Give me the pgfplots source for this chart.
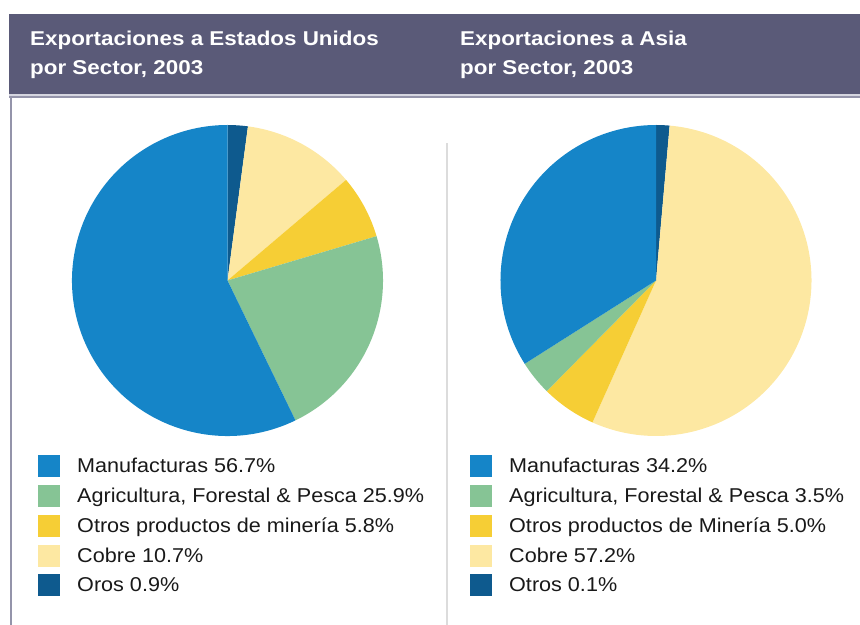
\documentclass[border=0pt]{standalone}
\usepackage{fontspec}
\setmainfont{Liberation Sans}
\newfontfamily\titlefont[FakeStretch=1.12]{Liberation Sans}
\newfontfamily\legfont[FakeStretch=1.08]{Liberation Sans}
\usepackage{pgfplots}
\usepackage{pgfplotstable}
\pgfplotsset{compat=1.18}

\definecolor{hdr}{HTML}{5A5A78}
\definecolor{hdrlight}{HTML}{D6D6E0}
\definecolor{hdrmid}{HTML}{9494AA}
\definecolor{divider}{HTML}{DCDCDC}
\definecolor{pie0}{HTML}{0E5A8E}
\definecolor{pie1}{HTML}{FDE8A2}
\definecolor{pie2}{HTML}{F6CE35}
\definecolor{pie3}{HTML}{86C495}
\definecolor{pie4}{HTML}{1585C8}

% slice sizes (percent) as drawn, clockwise from 12 o'clock
\pgfplotstableread{
sector value
Otros 2.1
Cobre 11.7
Mineria 6.6
Agricultura 22.4
Manufacturas 57.2
}\datausa

\pgfplotstableread{
sector value
Otros 1.4
Cobre 55.3
Mineria 5.7
Agricultura 3.6
Manufacturas 34.0
}\dataasia

\newcommand\drawpie[1]{%
  \xdef\cum{90}%
  \pgfplotstableforeachcolumnelement{value}\of#1\as\v{%
    \pgfmathsetmacro\endang{\cum-3.6*\v}%
    \edef\temp{\noexpand\fill[pie\pgfplotstablerow] (axis cs:0,0) -- ++(\cum:155.5bp) arc[start angle=\cum, end angle=\endang, radius=155.5bp] -- cycle;}%
    \temp
    \xdef\cum{\endang}%
  }%
}

\pgfplotsset{pieaxis/.style={
  hide axis, scale only axis,
  x=155.5bp, y=155.5bp,
  xmin=-1, xmax=1, ymin=-1, ymax=1,
  anchor=center, clip=false,
  legend image code/.code={\path[draw=none, fill=none] (0bp,-11bp) rectangle (39bp,11bp); \fill[##1, draw=none] (0bp,-11bp) rectangle (22bp,11bp);},
  legend cell align=left,
  legend style={draw=none, fill=none, inner sep=0pt, anchor=north west,
    row sep=7.8bp, text=black!90,
    font=\legfont\fontsize{20bp}{24bp}\selectfont,
    nodes={inner sep=0pt}},
}}

\begin{document}
\begin{tikzpicture}
\path[use as bounding box] (0bp,0bp) rectangle (860bp,625bp);
% header
\fill[hdr] (9bp,531bp) rectangle (860bp,611bp);
\fill[hdrlight] (9bp,529bp) rectangle (860bp,531bp);
\fill[hdrmid] (9bp,526.5bp) rectangle (860bp,529bp);
\fill[hdrmid] (10bp,0bp) rectangle (12bp,527bp);
\fill[divider] (446bp,0bp) rectangle (448bp,482bp);
\begin{scope}[every node/.style={anchor=base west, inner sep=0pt, text=white, font=\titlefont\bfseries\fontsize{20bp}{24bp}\selectfont}]
\node at (30bp,579bp) {Exportaciones a Estados Unidos};
\node at (30bp,550bp) {por Sector, 2003};
\node at (460bp,579bp) {Exportaciones a Asia};
\node at (460bp,550bp) {por Sector, 2003};
\end{scope}

\begin{axis}[pieaxis, at={(227.5bp,344.5bp)},
  legend style={at={(-0.1093,-0.0611)}}]
\drawpie{\datausa}
\addlegendimage{fill=pie4}\addlegendentry{Manufacturas 56.7\%}
\addlegendimage{fill=pie3}\addlegendentry{Agricultura, Forestal \& Pesca 25.9\%}
\addlegendimage{fill=pie2}\addlegendentry{Otros productos de minería 5.8\%}
\addlegendimage{fill=pie1}\addlegendentry{Cobre 10.7\%}
\addlegendimage{fill=pie0}\addlegendentry{Oros 0.9\%}
\end{axis}

\begin{axis}[pieaxis, at={(656bp,344.5bp)},
  legend style={at={(-0.0981,-0.0611)}}]
\drawpie{\dataasia}
\addlegendimage{fill=pie4}\addlegendentry{Manufacturas 34.2\%}
\addlegendimage{fill=pie3}\addlegendentry{Agricultura, Forestal \& Pesca 3.5\%}
\addlegendimage{fill=pie2}\addlegendentry{Otros productos de Minería 5.0\%}
\addlegendimage{fill=pie1}\addlegendentry{Cobre 57.2\%}
\addlegendimage{fill=pie0}\addlegendentry{Otros 0.1\%}
\end{axis}
\end{tikzpicture}
\end{document}
